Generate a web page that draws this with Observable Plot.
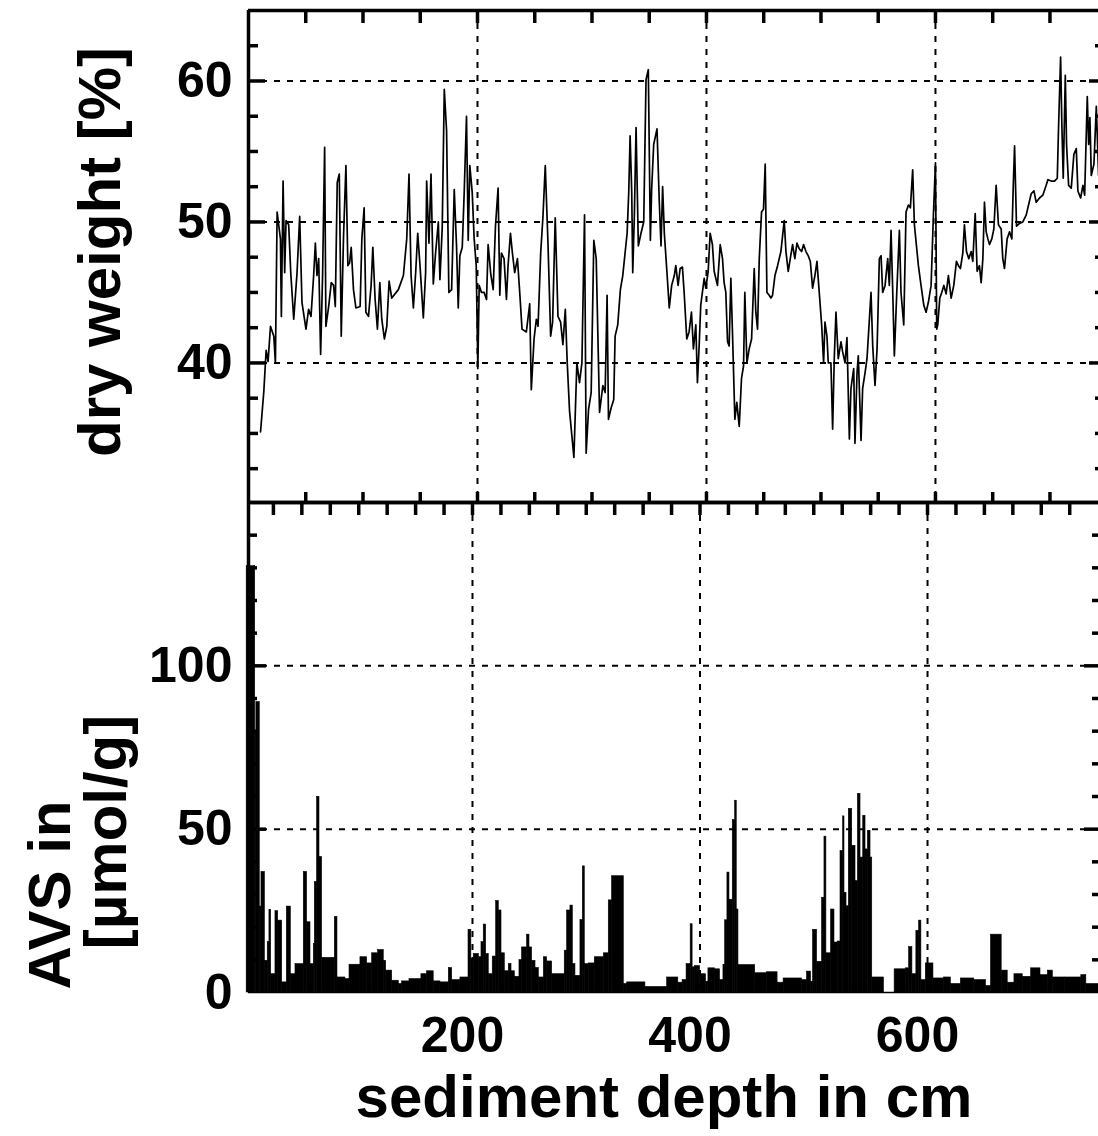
<!DOCTYPE html>
<html><head><meta charset="utf-8">
<script src="https://cdn.jsdelivr.net/npm/d3@7"></script>
<script src="https://cdn.jsdelivr.net/npm/@observablehq/plot@0.6"></script>
<style>
body{margin:0;background:#fff;}
#wrap{position:relative;width:1098px;height:1136px;overflow:hidden;background:#fff;font-family:"Liberation Sans",Arial,Helvetica,sans-serif;color:#000;}
#bottomPanel,#topPanel{position:absolute;left:0;}
#topPanel{top:0px;}
#bottomPanel{top:490px;}
.t{position:absolute;white-space:nowrap;font-weight:bold;font-size:60px;line-height:1;}
</style></head><body>
<div id="wrap">
<div id="bottomPanel"></div>
<div id="topPanel"></div>
<div class="t" style="left:100px;top:252px;transform:translate(-50%,-50%) rotate(-90deg);">dry weight [%]</div>
<div class="t" style="left:50px;top:895px;transform:translate(-50%,-50%) rotate(-90deg);">AVS in</div>
<div class="t" style="left:106px;top:832px;transform:translate(-50%,-50%) rotate(-90deg);">[µmol/g]</div>
<div class="t" style="left:664px;top:1067px;transform:translate(-50%,0);">sediment depth in cm</div>
</div>
<script>
// ---- dry weight [%] vs depth (cm) ----
const dryDepth = [10.5,13.4,15.4,17.1,19.2,22.1,23.5,25.0,27.9,28.7,30.2,31.6,32.8,35.1,36.9,39.5,42.4,44.7,46.7,50.2,52.5,54.6,56.9,58.4,59.8,61.3,63.0,64.7,66.5,67.6,70.0,72.3,74.3,75.8,77.5,79.3,81.0,83.0,85.1,86.8,88.3,89.7,91.7,93.8,97.5,99.0,101.0,102.5,104.8,107.1,108.6,110.6,112.6,114.7,116.4,118.7,120.8,122.8,125.1,130.9,135.3,138.2,140.2,142.0,144.0,146.0,147.8,149.8,152.7,154.7,155.6,157.6,159.4,161.4,163.4,165.8,167.2,169.2,171.0,173.0,175.0,177.4,179.7,181.7,183.2,184.6,186.7,188.4,190.4,191.9,193.3,195.4,197.1,198.9,200.3,201.5,203.5,205.8,207.9,209.3,211.6,213.7,215.7,218.0,219.5,220.9,223.2,225.3,226.7,228.8,230.5,232.5,234.9,236.9,238.9,242.7,245.6,247.0,249.4,251.4,252.9,255.2,257.2,259.2,261.6,263.9,265.6,267.9,270.3,272.6,274.6,276.7,278.4,280.4,284.2,286.8,289.1,291.2,293.5,294.9,297.0,299.3,301.6,303.7,306.6,309.5,311.5,313.2,314.4,316.7,319.0,320.2,322.5,324.8,326.9,328.9,330.7,332.1,333.3,334.7,335.6,337.0,338.5,340.5,342.8,345.2,347.2,349.2,351.0,352.1,353.9,356.8,358.8,360.3,361.7,363.2,365.5,367.5,369.6,371.9,
373.2,375.2,377.0,379.0,380.5,382.8,384.8,386.9,388.6,390.7,392.1,393.6,395.0,398.0,399.4,401.5,403.2,405.2,406.7,409.6,412.0,414.0,415.4,416.9,418.4,419.8,421.3,422.7,424.8,426.5,428.6,430.6,432.4,433.5,435.3,437.3,439.4,441.7,443.1,444.6,446.1,448.1,449.8,451.3,452.8,454.8,456.3,457.7,459.8,462.1,465.0,467.9,469.4,471.4,473.2,475.2,477.2,479.0,481.0,483.1,484.8,486.9,488.9,490.7,492.7,494.7,496.5,498.5,500.6,502.3,503.5,505.2,506.4,508.7,510.2,511.6,513.1,515.1,517.5,518.9,521.0,522.7,524.8,526.2,528.6,529.7,531.5,532.6,535.0,536.4,538.5,540.2,542.3,543.7,545.2,547.2,549.0,551.0,552.5,553.9,556.0,558.3,559.7,561.2,562.7,564.1,566.2,568.5,569.9,572.3,574.3,576.4,578.1,580.1,581.6,583.9,585.1,587.4,589.8,591.8,593.8,596.2,598.2,600.0,601.1,602.0,603.8,605.5,607.3,609.3,611.3,613.7,616.0,618.3,620.1,621.8,623.9,625.3,627.1,629.1,631.2,632.6,634.7,636.4,638.4,639.9,641.4,642.8,644.3,645.8,647.2,649.2,651.0,653.0,655.0,657.4,658.8,660.3,662.6,664.7,666.7,667.9,669.1,670.8,673.4,676.3,679.3,681.3,683.6,686.0,688.0,690.9,693.8,696.7,698.2,701.1,704.0,706.4,707.5,709.3,710.4,711.6,713.4,714.5,716.3,718.6,720.9,723.0,724.4,726.8,728.8,730.3,732.6,733.8,734.9,736.1,738.4,740.5,742.5];
const dryWeight = [35.1,38.0,40.9,40.1,42.6,41.9,40.0,50.7,48.8,43.3,52.9,46.4,50.1,49.8,46.4,43.1,46.4,50.4,44.3,42.4,43.8,43.3,46.2,48.5,46.2,47.4,40.6,46.2,55.3,42.6,44.0,45.7,45.5,44.0,52.8,53.4,41.9,49.0,54.0,46.9,47.1,48.2,45.2,43.9,44.0,48.8,51.0,43.6,43.3,45.5,48.2,44.5,42.4,45.7,43.1,41.7,42.6,45.8,44.6,45.2,46.2,48.8,53.4,46.2,43.9,46.4,49.2,46.9,43.2,46.4,52.9,48.5,53.4,45.6,47.8,50.0,45.9,49.6,59.4,56.5,45.0,45.2,52.3,48.3,43.9,47.6,48.2,52.1,57.5,48.7,54.0,52.1,48.8,46.9,39.6,45.5,45.0,45.0,44.5,48.4,46.3,45.2,49.7,52.4,44.8,47.8,47.4,44.5,46.9,49.2,47.8,46.4,47.4,45.0,42.4,42.2,44.2,38.1,41.7,43.1,42.6,47.8,50.4,54.0,48.4,41.9,42.9,50.3,43.3,42.9,41.3,43.8,40.0,36.6,33.3,40.0,38.6,40.0,50.5,33.6,36.7,37.9,48.7,47.4,36.5,38.4,37.9,44.8,36.0,36.8,37.4,41.9,42.7,45.2,46.2,47.8,49.2,52.1,56.1,52.2,46.4,50.4,56.7,48.3,49.2,50.0,60.1,60.8,48.7,52.3,55.5,56.6,51.4,48.3,52.5,49.2,46.4,43.9,45.5,46.2,
46.9,45.5,46.7,46.8,45.0,41.7,42.2,43.6,41.0,42.7,38.6,41.2,44.1,46.0,45.3,46.5,49.2,48.4,46.5,45.5,48.4,47.4,45.7,45.0,41.5,41.2,46.0,42.2,36.0,37.2,35.5,38.9,39.8,45.0,40.0,41.0,41.7,46.7,43.6,42.4,47.4,50.7,50.9,54.1,45.0,44.8,44.6,44.8,46.2,46.9,47.9,50.1,47.9,46.5,47.4,48.4,47.4,48.5,48.1,47.9,48.4,47.9,47.6,47.2,45.3,46.2,47.2,45.0,42.7,40.0,42.9,41.9,40.0,40.0,35.3,40.3,43.6,40.3,41.5,40.8,40.0,41.8,34.6,38.2,39.6,34.3,39.3,40.5,34.5,38.2,39.3,40.3,43.1,45.0,41.2,38.4,41.0,47.4,47.6,45.0,45.5,47.4,45.5,49.4,45.0,40.5,45.0,49.4,45.0,42.7,50.7,51.2,51.0,53.7,49.8,47.9,46.9,45.5,44.1,43.6,44.3,45.5,50.5,54.2,42.4,42.7,44.6,45.0,45.5,44.9,46.2,44.6,45.5,47.2,46.9,46.7,47.8,49.8,47.9,47.4,47.9,47.2,50.6,46.5,46.9,45.7,47.4,51.4,49.3,48.8,48.4,48.8,49.5,52.6,49.8,49.5,47.4,46.7,48.8,49.3,48.8,52.4,55.4,49.7,49.9,50.0,50.5,51.2,52.0,52.2,51.4,51.7,51.9,52.6,53.0,52.9,52.9,53.1,56.7,61.7,56.9,53.1,60.4,55.5,52.6,52.4,54.8,55.2,52.2,51.7,52.6,51.9,58.9,55.5,57.4,53.3,54.1,58.2,53.3];

// ---- AVS in µmol/g: sample interval starts (cm) and values ----
const avsStart = [1.5,9,10,13,14.5,17.5,20,21.5,23,26.8,29.2,32.7,36.8,40.3,44.4,51.7,54.6,57.6,60.5,61.4,63.4,65.5,67.8,79.0,81.3,88.3,91.9,101.5,107.4,111.8,117.1,122.0,124.1,129.4,135.2,138.1,144.6,155.1,160.1,165.9,171.8,179.2,182.1,189.4,196.5,199.0,201.1,205.6,207.9,209.9,212.0,214.3,217.8,220.8,223.1,225.5,228.4,231.9,234.3,237.2,241.3,243.6,248.0,250.1,252.4,255.4,258.3,262.7,265.6,270.0,281.1,283.2,286.1,288.2,290.5,294.9,297.0,298.7,302.2,307.5,315.5,319.8,322.7,333.0,336.0,352.0,371.1,380.9,384.7,388.2,391.8,393.5,395.6,400.0,405.3,407.4,413.2,417.6,420.6,422.1,424.1,425.9,428.8,430.9,432.3,433.8,448.5,458.8,468.2,473.5,489.7,494.1,497.6,499.4,502.9,507.3,509.4,511.1,515.2,518.2,521.1,523.5,525.8,527.0,528.8,530.8,533.8,536.7,538.8,541.1,543.5,545.5,547.6,549.9,551.4,561.7,571.1,580.8,583.8,586.7,590.2,592.6,594.6,598.5,605.2,614.6,620.5,629.3,641.1,651.4,655.8,665.2,670.5,676.4,683.7,691.1,699.3,705.8,710.2,720.5,735.2,739.6];
const avsValue = [130.5,80,88.9,26.3,36.9,9.7,15.4,25.3,5.6,24.9,22.0,3.1,26.3,5.6,8.7,36.9,21.5,8.7,14.9,33.8,59.9,41.5,10.6,23.1,4.6,4.1,8.5,10.8,8.9,12.0,13.0,9.7,6.7,3.6,2.6,3.4,4.1,5.6,6.5,3.4,3.1,7.5,3.8,4.6,19.2,10.2,11.8,10.8,15.4,20.8,11.8,5.6,11.0,28.0,25.1,12.0,6.5,8.7,6.5,4.8,9.9,13.8,17.7,13.8,9.7,7.5,4.6,10.8,9.5,5.6,12.8,25.1,26.6,8.7,5.1,22.2,38.6,8.7,8.9,10.8,12.0,28.2,35.6,2.6,3.1,1.7,4.6,3.0,3.8,8.7,20.9,7.7,8.1,5.6,3.3,7.4,7.1,3.8,8.4,22.1,36.7,28.4,52.8,58.7,25.4,8.4,5.9,6.2,3.0,4.3,3.8,6.4,3.3,19.2,9.4,29.0,47.7,12.0,25.4,15.3,15.6,43.3,53.9,30.5,26.4,56.2,44.9,34.1,60.8,41.3,54.1,43.8,49.5,41.3,4.6,0,7.1,7.4,13.9,5.6,18.9,22.0,3.8,8.9,4.3,4.6,2.6,4.3,3.8,2.0,17.7,6.7,3.0,5.6,4.8,7.4,5.3,6.7,4.6,4.6,5.3,2.6];
const avsLastEnd = 751;

// ---- axes ----
const dryDomain = [30.1, 65];
const avsDomain = [0, 150];
const depthDomainTop = [0, 742.4];
const depthDomainBottom = [3.1, 750.3];
const dryLabels = [40, 50, 60];
const avsLabels = [0, 50, 100];
const depthLabels = [200, 400, 600];
const depthTicks50 = d3.range(50, 750, 50);
const depthTicks25 = d3.range(25, 750, 25);
const dryMinor = d3.range(32.5, 65, 2.5).filter(v => v % 10 !== 0);
const avsMinor = d3.range(10, 150, 10).filter(v => v % 50 !== 0);
const avsMajor = [50, 100];

const dry = dryDepth.map((d, i) => ({depth: d, w: dryWeight[i]}));
const avs = avsStart.map((d, i) => ({x1: d, x2: i + 1 < avsStart.length ? avsStart[i + 1] : avsLastEnd, v: avsValue[i]}));

const font = {fontFamily: "'Liberation Sans', Arial, Helvetica, sans-serif", background: "transparent", overflow: "visible", color: "black"};
const dash = {strokeDasharray: "6,7", strokeWidth: 2, stroke: "black"};
const lab = {tickSize: 0, fontSize: 50, fontWeight: "bold", label: null};
const tk = {fill: "none", label: null, strokeWidth: 3.5};
const frameW = 3.5;

const topChart = Plot.plot({
  width: 1098, height: 504,
  marginLeft: 248, marginRight: 0, marginTop: 10, marginBottom: 2,
  style: font,
  x: {domain: depthDomainTop},
  y: {domain: dryDomain},
  marks: [
    Plot.ruleY(dryLabels, dash),
    Plot.ruleX(depthLabels, dash),
    Plot.line(dry, {x: "depth", y: "w", stroke: "black", strokeWidth: 1.7}),
    Plot.ruleY([dryDomain[1]], {strokeWidth: frameW}),
    Plot.ruleY([dryDomain[0]], {strokeWidth: frameW}),
    Plot.ruleX([depthDomainTop[0]], {strokeWidth: frameW}),
    Plot.axisX(depthTicks50, {anchor: "top", tickSize: -12, ...tk}),
    Plot.axisX(depthTicks50, {anchor: "bottom", tickSize: -10, ...tk}),
    Plot.axisY(dryMinor, {anchor: "left", tickSize: -10, ...tk}),
    Plot.axisY(dryLabels, {anchor: "left", tickSize: -17, ...tk}),
    Plot.axisY(dryMinor, {anchor: "right", tickSize: -4, ...tk}),
    Plot.axisY(dryLabels, {anchor: "right", tickSize: -10, ...tk}),
    Plot.axisY(dryLabels, {anchor: "left", tickPadding: 16, ...lab})
  ]
});
document.getElementById("topPanel").appendChild(topChart);

const bottomChart = Plot.plot({
  width: 1098, height: 646,
  marginLeft: 248, marginRight: 0, marginTop: 12, marginBottom: 144,
  style: font,
  x: {domain: depthDomainBottom},
  y: {domain: avsDomain},
  marks: [
    Plot.ruleY(avsMajor, dash),
    Plot.ruleX(depthLabels, dash),
    Plot.rectY(avs, {x1: "x1", x2: "x2", y: "v", fill: "black", stroke: "black", strokeWidth: 0.6}),
    Plot.ruleY([avsDomain[0]], {strokeWidth: 1.5}),
    Plot.ruleY([avsDomain[1]], {strokeWidth: frameW}),
    Plot.ruleX([depthDomainBottom[0]], {strokeWidth: frameW}),
    Plot.axisX(depthTicks25, {anchor: "top", tickSize: -12, ...tk}),
    Plot.axisY(avsMinor, {anchor: "left", tickSize: -9, ...tk}),
    Plot.axisY(avsMajor, {anchor: "left", tickSize: -18, ...tk}),
    Plot.axisY(avsMinor, {anchor: "right", tickSize: -7, ...tk}),
    Plot.axisY(avsMajor, {anchor: "right", tickSize: -15, ...tk}),
    Plot.axisY(avsLabels, {anchor: "left", tickPadding: 16, ...lab}),
    Plot.axisX(depthLabels, {anchor: "bottom", tickPadding: 24, dx: -10, ...lab})
  ]
});
document.getElementById("bottomPanel").appendChild(bottomChart);
</script>
</body></html>
